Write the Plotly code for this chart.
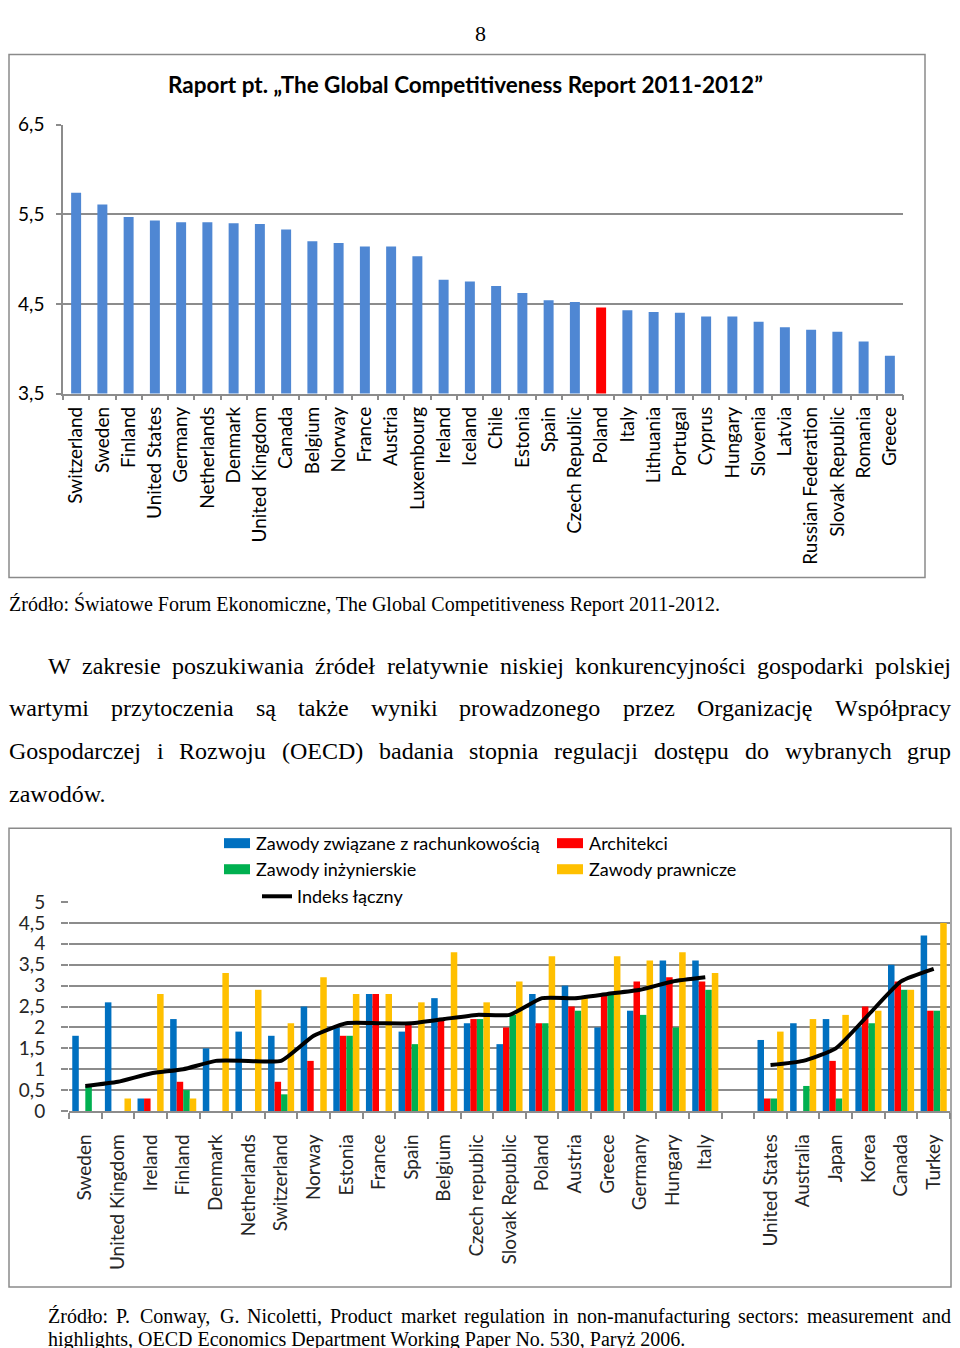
import plotly.graph_objects as go

# ---------------- data: chart 1 ----------------
countries_gcr = ["Switzerland", "Sweden", "Finland", "United States", "Germany", "Netherlands",
                 "Denmark", "United Kingdom", "Canada", "Belgium", "Norway", "France", "Austria",
                 "Luxembourg", "Ireland", "Iceland", "Chile", "Estonia", "Spain", "Czech Republic",
                 "Poland", "Italy", "Lithuania", "Portugal", "Cyprus", "Hungary", "Slovenia",
                 "Latvia", "Russian Federation", "Slovak Republic", "Romania", "Greece"]
gci_values = [5.74, 5.61, 5.47, 5.43, 5.41, 5.41, 5.40, 5.39, 5.33, 5.20, 5.18, 5.14, 5.14,
              5.03, 4.77, 4.75, 4.70, 4.62, 4.54, 4.52, 4.46, 4.43, 4.41, 4.40, 4.36, 4.36,
              4.30, 4.24, 4.21, 4.19, 4.08, 3.92]
gcr_ticks = [3.5, 4.5, 5.5, 6.5]
gcr_ticktext = ["3,5", "4,5", "5,5", "6,5"]
highlight = "Poland"

# ---------------- data: chart 2 ----------------
countries_pmr = ["Sweden", "United Kingdom", "Ireland", "Finland", "Denmark", "Netherlands",
                 "Switzerland", "Norway", "Estonia", "France", "Spain", "Belgium",
                 "Czech republic", "Slovak Republic", "Poland", "Austria", "Greece", "Germany",
                 "Hungary", "Italy", " ", "United States", "Australia", "Japan", "Korea",
                 "Canada", "Turkey"]
accounting = [1.8, 2.6, 0.3, 2.2, 1.5, 1.9, 1.8, 2.5, 2.0, 2.8, 1.9, 2.7, 2.1, 1.6, 2.8, 3.0,
              2.0, 2.4, 3.6, 3.6, None, 1.7, 2.1, 2.2, 2.0, 3.5, 4.2]
architects = [0, 0, 0.3, 0.7, 0, 0, 0.7, 1.2, 1.8, 2.8, 2.1, 2.2, 2.2, 2.0, 2.1, 2.5,
              2.8, 3.1, 3.2, 3.1, None, 0.3, 0, 1.2, 2.5, 3.1, 2.4]
engineers = [0.6, 0, 0, 0.5, 0, 0, 0.4, 0, 1.8, 0, 1.6, 0, 2.2, 2.3, 2.1, 2.4,
             2.8, 2.3, 2.0, 2.9, None, 0.3, 0.6, 0.3, 2.1, 2.9, 2.4]
legal = [0, 0.3, 2.8, 0.3, 3.3, 2.9, 2.1, 3.2, 2.8, 2.8, 2.6, 3.8, 2.6, 3.1, 3.7, 2.7,
         3.7, 3.6, 3.8, 3.3, None, 1.9, 2.2, 2.3, 2.4, 2.9, 4.5]
index_total = [0.6, 0.7, 0.9, 1.0, 1.2, 1.2, 1.2, 1.8, 2.1, 2.1, 2.1, 2.2, 2.3, 2.3, 2.7, 2.7,
               2.8, 2.9, 3.1, 3.2, None, 1.1, 1.2, 1.5, 2.3, 3.1, 3.4]
pmr_ticks = [0, 0.5, 1, 1.5, 2, 2.5, 3, 3.5, 4, 4.5, 5]
pmr_ticktext = ["0", "0,5", "1", "1,5", "2", "2,5", "3", "3,5", "4", "4,5", "5"]

series_names = ["Zawody związane z rachunkowością", "Architekci", "Zawody inżynierskie",
                "Zawody prawnicze"]
line_name = "Indeks łączny"

# ---------------- texts ----------------
page_number = "8"
title1 = "Raport pt. „The Global Competitiveness Report 2011-2012”"
source1 = "Źródło: Światowe Forum Ekonomiczne, The Global Competitiveness Report 2011-2012."
paragraph_lines = [
    "W zakresie poszukiwania źródeł relatywnie niskiej konkurencyjności gospodarki polskiej",
    "wartymi przytoczenia są także wyniki prowadzonego przez Organizację Współpracy",
    "Gospodarczej i Rozwoju (OECD) badania stopnia regulacji dostępu do wybranych grup",
    "zawodów.",
]
source2_lines = [
    "Źródło: P. Conway, G. Nicoletti, Product market regulation in non-manufacturing sectors: measurement and",
    "highlights, OECD Economics Department Working Paper No. 530, Paryż 2006.",
]

# ---------------- page geometry ----------------
FW, FH = 944, 1362          # figure size
OX = 8                      # horizontal page offset of the figure
OY, SY = 20.6, 0.981        # vertical offset / scale of the figure in the photographed page
XR = 951                    # right-most visible page x

SANS = "Lato, 'Open Sans', sans-serif"
SERIF = "'Liberation Serif', 'Times New Roman', serif"
GRID = "#8c8c8c"
C_BLUE, C_RED, C_GREEN, C_YELLOW = "#0070C0", "#FF0000", "#00B050", "#FFC000"
C_GCR = "#4F87D3"


def fx(x):
    return (x - OX) / FW


def fy(y):
    return 1 - ((y - OY) / SY) / FH


# Times-Roman advance widths (per 1000 em) for justified text layout
TW = {' ': 250, ',': 250, '.': 250, ':': 278, '-': 333, '(': 333, ')': 333, '„': 444, '”': 444}
for c in "0123456789":
    TW[c] = 500
TW.update(dict(zip("abcdefghijklmnopqrstuvwxyz",
                   [444, 500, 444, 500, 444, 333, 500, 500, 278, 278, 500, 278, 778, 500, 500,
                    500, 500, 333, 389, 278, 500, 500, 722, 500, 500, 444])))
TW.update(dict(zip("ABCDEFGHIJKLMNOPQRSTUVWXYZ",
                   [722, 667, 667, 722, 611, 556, 722, 722, 333, 389, 722, 611, 889, 722, 722,
                    556, 722, 667, 556, 611, 722, 722, 944, 722, 722, 611])))
TW.update({'ą': 444, 'ę': 444, 'ó': 500, 'ł': 278, 'ż': 444, 'ź': 444, 'ś': 389, 'ć': 444,
           'ń': 500, 'Ź': 611, 'Ś': 556, 'Ż': 611})


def tw(s, size):
    return sum(TW.get(c, 500) for c in s) * size / 1000.0


annotations = []
shapes = []


def add_text(text, x, y, size, font=SERIF, anchor="left", bold=False, color="#000000",
             yanchor="middle", ypaper=None):
    annotations.append(dict(
        text=("<b>%s</b>" % text) if bold else text, x=fx(max(x, OX)),
        y=fy(y) if ypaper is None else ypaper,
        xref="paper", yref="paper", xanchor=anchor, yanchor=yanchor,
        showarrow=False, borderpad=0, font=dict(family=font, size=size, color=color)))


def justified(line, x0, x1, y, size):
    x0 = max(x0, OX)
    words = line.split(" ")
    widths = [tw(w, size) for w in words]
    gap = (x1 - x0 - sum(widths)) / (len(words) - 1)
    x = x0
    for w, wd in zip(words, widths):
        add_text(w, x, y, size)
        x += wd + gap


# ---------------- figure ----------------
fig = go.Figure()

fig.add_trace(go.Bar(
    x=countries_gcr, y=gci_values, width=0.38,
    marker=dict(color=[C_RED if c == highlight else C_GCR for c in countries_gcr], line_width=0),
    xaxis="x", yaxis="y", showlegend=False, name="GCI"))

for name, vals, col in zip(series_names, [accounting, architects, engineers, legal],
                           [C_BLUE, C_RED, C_GREEN, C_YELLOW]):
    fig.add_trace(go.Bar(x=countries_pmr, y=vals, name=name, marker=dict(color=col, line_width=0),
                         xaxis="x2", yaxis="y2", showlegend=False))

fig.add_trace(go.Scatter(x=countries_pmr, y=index_total, name=line_name, mode="lines",
                         line=dict(color="#000000", width=4, shape="spline", smoothing=0.5),
                         connectgaps=False, xaxis="x2", yaxis="y2", showlegend=False))

# chart 1 frame & title
shapes.append(dict(type="rect", xref="paper", yref="paper", x0=fx(9), x1=fx(925), y0=fy(577),
                   y1=fy(55), line=dict(color="#8a8a8a", width=1.5)))
add_text(title1, 465, 85, 22.5, font=SANS, anchor="center", bold=True)

# chart 2 frame
shapes.append(dict(type="rect", xref="paper", yref="paper", x0=fx(9), x1=fx(XR), y0=fy(1285),
                   y1=fy(827), line=dict(color="#8a8a8a", width=1.5)))

# chart 2 legend
leg_items = [(series_names[0], C_BLUE, 224, 842), (series_names[1], C_RED, 557, 842),
             (series_names[2], C_GREEN, 224, 868), (series_names[3], C_YELLOW, 557, 868)]
for name, col, lx, ly in leg_items:
    shapes.append(dict(type="rect", xref="paper", yref="paper", x0=fx(lx), x1=fx(lx + 26),
                       y0=fy(ly + 5), y1=fy(ly - 5), fillcolor=col, line_width=0))
    add_text(name, lx + 31, ly, 18, font=SANS)
shapes.append(dict(type="line", xref="paper", yref="paper", x0=fx(262), x1=fx(292),
                   y0=fy(895), y1=fy(895), line=dict(color="#000000", width=4)))
add_text(line_name, 296, 895, 18, font=SANS)

# page texts
add_text(page_number, 480, 12, 22, anchor="center", yanchor="top", ypaper=1.0)
add_text(source1, 4, 603, 20)
for i, line in enumerate(paragraph_lines):
    y = 665 + i * 42.5
    if i == 0:
        justified(line, 47, XR - 1, y, 24)
    elif i < len(paragraph_lines) - 1:
        justified(line, 4, XR - 1, y, 24)
    else:
        add_text(line, 4, y, 24)
justified(source2_lines[0], 47, XR - 1, 1314, 20)
add_text(source2_lines[1], 47, 1337, 20)

axis_font = dict(family=SANS, size=19, color="#000000")

fig.update_layout(
    width=FW, height=FH, autosize=False,
    margin=dict(l=0, r=0, t=0, b=0),
    paper_bgcolor="white", plot_bgcolor="white",
    barmode="group", bargap=0.2, bargroupgap=0,
    showlegend=False,
    annotations=annotations, shapes=shapes,
    xaxis=dict(domain=[fx(63), fx(903)], anchor="y", type="category",
               categoryorder="array", categoryarray=countries_gcr,
               tickson="boundaries", ticks="outside", ticklen=5, tickcolor=GRID, tickwidth=1.5,
               showline=True, linecolor=GRID, linewidth=1.5, showgrid=False,
               tickangle=-90, tickfont=axis_font, ticklabelstandoff=4),
    yaxis=dict(domain=[fy(393.3), fy(125)], anchor="x", range=[3.5, 6.5],
               tickvals=gcr_ticks, ticktext=gcr_ticktext, tickfont=axis_font,
               showgrid=True, gridcolor=GRID, gridwidth=1.5, zeroline=False,
               showline=True, linecolor=GRID, linewidth=1.5,
               ticks="outside", ticklen=5, tickcolor=GRID, tickwidth=1.5, ticklabelstandoff=8),
    xaxis2=dict(domain=[fx(69), fx(XR - 1)], anchor="y2", type="category",
                categoryorder="array", categoryarray=countries_pmr,
                tickson="boundaries", ticks="outside", ticklen=6, tickcolor=GRID, tickwidth=1.5,
                showline=True, linecolor=GRID, linewidth=1.5, showgrid=False,
                tickangle=-90, tickfont=dict(family=SANS, size=19, color="#262626"),
                ticklabelstandoff=14),
    yaxis2=dict(domain=[fy(1109.3), fy(900.7)], anchor="x2", range=[0, 5],
                tickvals=pmr_ticks, ticktext=pmr_ticktext,
                tickfont=dict(family=SANS, size=19, color="#262626"),
                showgrid=True, gridcolor=GRID, gridwidth=1.5, zeroline=False, showline=False,
                ticks="outside", ticklen=7, tickcolor=GRID, tickwidth=1.5, ticklabelstandoff=12),
)

fig.write_html("out.html")
